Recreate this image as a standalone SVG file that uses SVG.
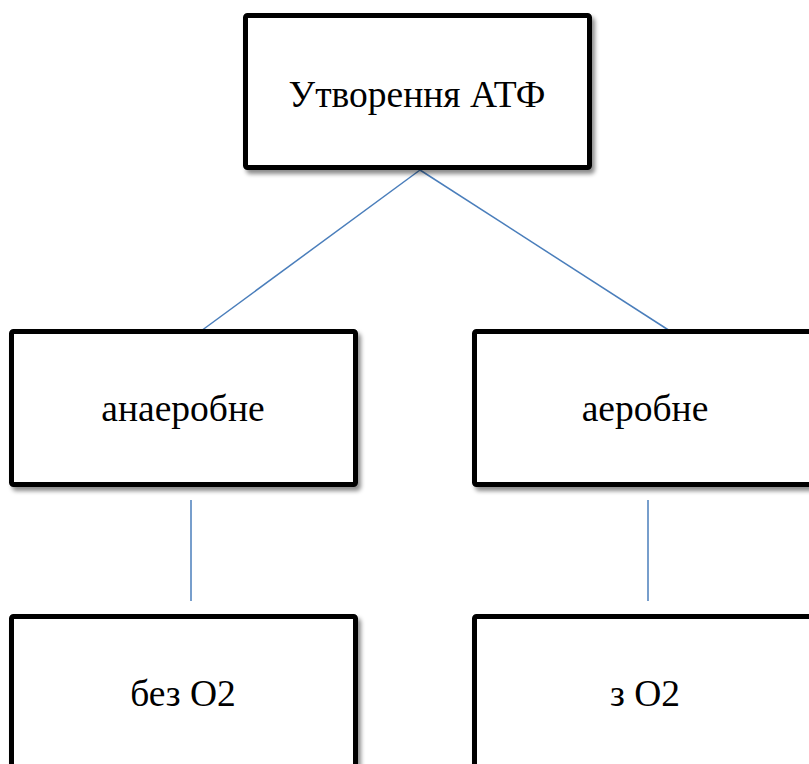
<svg xmlns="http://www.w3.org/2000/svg" width="809" height="764" viewBox="0 0 809 764">
  <style>
    .box { fill: #ffffff; stroke: #000000; stroke-width: 5; filter: url(#shadow); }
    .lbl { font-family: 'Liberation Serif', 'Times New Roman', serif; font-size: 37.5px; fill: #000000; text-anchor: middle; }
    .conn { stroke: #4a7ebb; stroke-width: 1.5; fill: none; }
  </style>
  <defs>
    <filter id="shadow" x="-10%" y="-10%" width="130%" height="130%">
      <feDropShadow dx="3" dy="4" stdDeviation="2" flood-color="#000000" flood-opacity="0.45"/>
    </filter>
  </defs>
  <rect width="809" height="764" fill="#ffffff"/>
  <g id="connectors">
    <line class="conn" x1="420" y1="170" x2="201" y2="331"/>
    <line class="conn" x1="420" y1="170" x2="670" y2="331"/>
    <line class="conn" x1="191" y1="500" x2="191" y2="601"/>
    <line class="conn" x1="648" y1="500" x2="648" y2="601"/>
  </g>
  <g id="node-atp">
    <rect class="box" x="245.5" y="15.5" width="344" height="152" rx="2"/>
    <text class="lbl" x="417" y="107">Утворення АТФ</text>
  </g>
  <g id="node-anaerobic">
    <rect class="box" x="11.5" y="331.5" width="344" height="153" rx="2"/>
    <text class="lbl" x="183" y="421">анаеробне</text>
  </g>
  <g id="node-aerobic">
    <rect class="box" x="474.5" y="331.5" width="344" height="153" rx="2"/>
    <text class="lbl" x="645" y="421">аеробне</text>
  </g>
  <g id="node-no-o2">
    <rect class="box" x="11.5" y="616.5" width="344" height="153" rx="2"/>
    <text class="lbl" x="183" y="706">без О2</text>
  </g>
  <g id="node-o2">
    <rect class="box" x="474.5" y="616.5" width="344" height="153" rx="2"/>
    <text class="lbl" x="645" y="706">з О2</text>
  </g>
</svg>
